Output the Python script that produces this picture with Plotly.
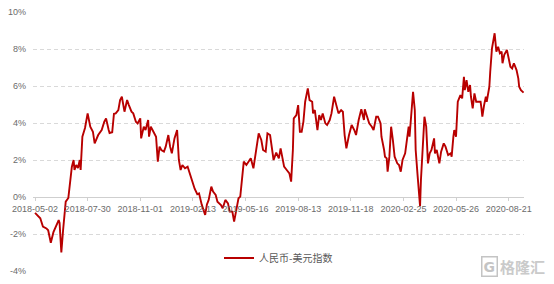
import plotly.graph_objects as go

# trading-day index (0 = 2018-05-02) and index value (%)
t = [0, 4, 6, 9, 13, 15, 18, 21, 24, 27, 28, 30, 32, 35, 38, 40, 42, 44, 45, 47,
     49, 51, 52, 54, 57, 60, 62, 63, 66, 68, 72, 76, 79, 81, 84, 85, 88, 90, 92, 95,
     97, 99, 102, 105, 107, 110, 112, 115, 117, 120, 121, 124, 126, 129, 130, 132, 135, 138, 140, 142,
     144, 147, 149, 152, 154, 156, 159, 162, 164, 166, 168, 171, 174, 177, 180, 182, 185, 187, 190, 194,
     196, 198, 201, 203, 206, 208, 212, 214, 217, 220, 222, 225, 227, 230, 232, 234, 236, 238, 241, 244,
     246, 249, 251, 253, 255, 258, 260, 263, 265, 268, 270, 272, 275, 278, 280, 282, 284, 287, 290, 292,
     294, 295, 298, 300, 302, 304, 306, 308, 311, 313, 316, 317, 319, 322, 324, 326, 328, 331, 333, 336,
     338, 341, 343, 346, 349, 351, 353, 355, 358, 361, 364, 366, 369, 372, 375, 376, 378, 381, 384, 386,
     389, 391, 394, 395, 398, 399, 401, 402, 404, 406, 408, 410, 413, 415, 417, 419, 422, 424, 426, 427,
     429, 431, 433, 434, 436, 439, 440, 442, 444, 446, 448, 450, 452, 455, 456, 458, 461, 463, 466, 468,
     471, 474, 475, 477, 478, 480, 481, 482, 485, 487, 489, 490, 492, 494, 496, 497, 499, 501, 503, 505,
     508, 509, 510, 512, 514, 515, 518, 519, 520, 521, 524, 526, 528, 530, 532, 533, 535, 538, 540, 542,
     544, 546, 549, 551, 552, 554, 557]
v = [-0.86, -1.06, -1.15, -1.6, -1.7, -1.8, -2.47, -1.9, -1.6, -1.25, -1.4, -3.0, -1.8, -0.25, -0.05, 0.92, 1.64, 2.0, 1.46, 1.73,
     1.57, 2.0, 1.46, 3.26, 3.73, 4.52, 4.0, 3.8, 3.53, 2.9, 3.35, 3.62, 4.07, 4.25, 3.62, 3.46, 3.5, 4.5, 4.52, 4.7,
     5.24, 5.42, 4.61, 5.24, 4.97, 4.61, 4.52, 4.07, 3.98, 4.25, 3.17, 3.8, 3.62, 4.16, 3.26, 3.8, 3.53, 3.26, 1.91, 2.72,
     2.54, 2.45, 2.72, 3.35, 2.72, 2.36, 3.17, 3.62, 2.0, 1.46, 1.73, 1.55, 1.64, 1.19, 0.74, 0.45, 0.15, 0.2, -0.4, -0.97,
     -0.4, -0.16, 0.56, 0.29, 0.11, -0.25, -0.43, -0.61, -0.16, -0.34, -0.79, -0.79, -1.33, -0.61, -0.07, 0.02, 1.1, 1.91, 1.73, 1.91,
     2.09, 1.55, 2.18, 2.81, 3.44, 3.08, 2.54, 2.45, 3.44, 3.35, 2.72, 2.0, 2.4, 2.09, 2.63, 2.18, 1.64, 1.46, 1.28, 0.83,
     2.54, 4.25, 4.43, 4.97, 3.53, 3.53, 4.07, 5.15, 5.87, 5.24, 5.15, 4.52, 4.7, 3.62, 4.43, 4.16, 4.52, 3.98, 3.89, 4.16,
     4.52, 5.42, 5.06, 4.52, 4.7, 4.61, 3.35, 2.63, 3.35, 3.89, 3.62, 3.35, 4.16, 4.74, 4.16, 4.74, 4.43, 3.98, 3.8, 3.62,
     4.34, 4.34, 3.98, 3.26, 2.54, 2.18, 2.09, 1.37, 2.18, 3.8, 3.08, 2.18, 1.82, 1.73, 1.37, 2.0, 2.36, 2.99, 3.8, 3.26,
     4.34, 5.69, 4.7, 2.54, 1.28, -0.5, 0.92, 2.72, 4.34, 3.8, 1.82, 2.36, 2.54, 3.17, 2.36, 2.54, 1.82, 2.45, 2.9, 2.72,
     2.27, 2.36, 2.18, 3.26, 3.62, 3.26, 4.16, 5.15, 5.51, 5.33, 6.5, 5.78, 6.32, 5.69, 6.05, 5.42, 4.79, 5.6, 5.15, 5.15,
     5.15, 4.79, 4.34, 4.97, 5.42, 5.15, 5.96, 6.77, 7.77, 8.04, 8.85, 7.86, 8.12, 7.77, 7.86, 7.23, 7.68, 7.95, 7.5, 7.04,
     6.95, 7.23, 6.86, 6.41, 5.96, 5.78, 5.64]

tick_idx = [0, 60, 120, 180, 240, 300, 360, 420, 480, 540]
tick_labels = ["2018-05-02", "2018-07-30", "2018-11-01", "2019-02-13", "2019-05-16",
               "2019-08-13", "2019-11-18", "2020-02-25", "2020-05-26", "2020-08-21"]
y_ticks = [-4, -2, 0, 2, 4, 6, 8, 10]
series_name = "人民币-美元指数"

fig = go.Figure()
fig.add_trace(go.Scatter(x=t, y=v, mode="lines", name=series_name,
                         line=dict(color="#B80000", width=1.9), showlegend=True))

tick_font = dict(family="Liberation Sans, Arial, sans-serif", size=9, color="#6b6b6b")

fig.update_layout(
    width=554, height=284,
    margin=dict(l=33, r=30, t=12, b=13, autoexpand=False),
    paper_bgcolor="white", plot_bgcolor="white",
    showlegend=True,
    legend=dict(orientation="h", x=0.5, xanchor="center", y=0.05, yanchor="middle",
                font=dict(family="Noto Sans CJK SC", size=10, color="#595959"),
                bgcolor="rgba(0,0,0,0)", itemwidth=30),
    xaxis=dict(range=[-2.3, 557.5], anchor="free", position=4/14, automargin=False,
               tickmode="array", tickvals=tick_idx, ticktext=tick_labels,
               showgrid=False, zeroline=False, showline=False,
               ticks="outside", ticklen=3, tickcolor="#d0d0d0",
               tickfont=tick_font),
    yaxis=dict(range=[-4, 10], tickmode="array", tickvals=y_ticks, automargin=False,
               ticktext=[f"{y}%" for y in y_ticks],
               showgrid=True, gridcolor="#d9d9d9", griddash="4px,3px", gridwidth=1,
               zeroline=True, zerolinecolor="#cfcfcf", zerolinewidth=1,
               showline=False, ticks="", ticklabelstandoff=6, tickfont=tick_font),
    annotations=[
        dict(text="<b>G</b>", xref="paper", yref="paper", x=0.947, xanchor="right",
             y=0.019, yanchor="middle", showarrow=False,
             font=dict(family="DejaVu Sans", size=14, color="#c4c4c4"),
             bordercolor="#c4c4c4", borderwidth=1.5, borderpad=1),
        dict(text="<b>格隆汇</b>", xref="paper", yref="paper", x=1.047, xanchor="right",
             y=0.019, yanchor="middle", showarrow=False,
             font=dict(family="Noto Sans CJK SC", size=15, color="#cacaca")),
    ],
)

fig.write_html("out.html")
